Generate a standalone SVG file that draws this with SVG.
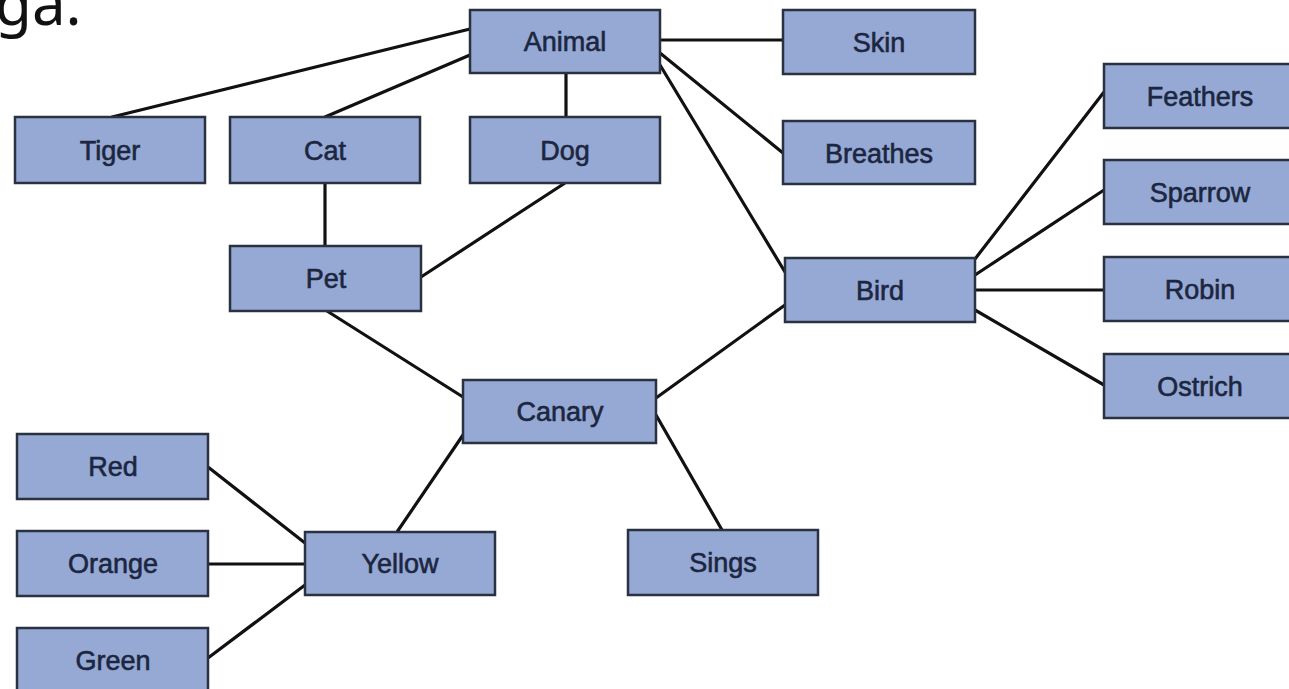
<svg xmlns="http://www.w3.org/2000/svg" width="1289" height="689" viewBox="0 0 1289 689">
<style>
.n rect{fill:#95a9d4;stroke:#2a3140;stroke-width:2.5}
.n text{font-family:"Liberation Sans",Arial,sans-serif;font-size:27px;fill:#1c2640;stroke:#1c2640;stroke-width:0.6;text-anchor:middle}
.c line{stroke:#111;stroke-width:3.2;stroke-linecap:round}
.h{font-family:"Noto Sans","DejaVu Sans",sans-serif;font-size:60px;fill:#111}
</style>
<rect width="1289" height="689" fill="#fff"/>
<text class="h" x="-5" y="25">ga.</text>
<g class="c">
<line x1="470" y1="29" x2="112" y2="117"/>
<line x1="470" y1="55" x2="325" y2="117"/>
<line x1="566" y1="73" x2="566" y2="117"/>
<line x1="660" y1="40" x2="783" y2="40"/>
<line x1="660" y1="53" x2="783" y2="153"/>
<line x1="660" y1="65" x2="785" y2="272"/>
<line x1="325" y1="183" x2="325" y2="246"/>
<line x1="565" y1="183" x2="421" y2="277"/>
<line x1="327" y1="311" x2="463" y2="397"/>
<line x1="656" y1="398" x2="785" y2="305"/>
<line x1="463" y1="435" x2="397" y2="532"/>
<line x1="656" y1="415" x2="722" y2="530"/>
<line x1="208" y1="467" x2="305" y2="543"/>
<line x1="208" y1="564" x2="305" y2="564"/>
<line x1="208" y1="658" x2="305" y2="585"/>
<line x1="975" y1="259" x2="1104" y2="92"/>
<line x1="975" y1="275" x2="1104" y2="190"/>
<line x1="975" y1="290" x2="1104" y2="290"/>
<line x1="975" y1="310" x2="1104" y2="385"/>
</g>
<g id="animal" class="n"><rect x="470" y="10" width="190" height="63"/><text x="565" y="51">Animal</text></g>
<g id="skin" class="n"><rect x="783" y="10" width="192" height="64"/><text x="879" y="52">Skin</text></g>
<g id="tiger" class="n"><rect x="15" y="117" width="190" height="66"/><text x="110" y="160">Tiger</text></g>
<g id="cat" class="n"><rect x="230" y="117" width="190" height="66"/><text x="325" y="160">Cat</text></g>
<g id="dog" class="n"><rect x="470" y="117" width="190" height="66"/><text x="565" y="160">Dog</text></g>
<g id="breathes" class="n"><rect x="783" y="121" width="192" height="63"/><text x="879" y="163">Breathes</text></g>
<g id="feathers" class="n"><rect x="1104" y="64" width="190" height="64"/><text x="1200" y="106">Feathers</text></g>
<g id="sparrow" class="n"><rect x="1104" y="160" width="190" height="64"/><text x="1200" y="202">Sparrow</text></g>
<g id="pet" class="n"><rect x="230" y="246" width="191" height="65"/><text x="326" y="288">Pet</text></g>
<g id="bird" class="n"><rect x="785" y="258" width="190" height="64"/><text x="880" y="300">Bird</text></g>
<g id="robin" class="n"><rect x="1104" y="257" width="190" height="64"/><text x="1200" y="299">Robin</text></g>
<g id="ostrich" class="n"><rect x="1104" y="354" width="190" height="64"/><text x="1200" y="396">Ostrich</text></g>
<g id="canary" class="n"><rect x="463" y="380" width="193" height="63"/><text x="560" y="421">Canary</text></g>
<g id="red" class="n"><rect x="17" y="434" width="191" height="65"/><text x="113" y="476">Red</text></g>
<g id="orange" class="n"><rect x="17" y="531" width="191" height="65"/><text x="113" y="573">Orange</text></g>
<g id="yellow" class="n"><rect x="305" y="532" width="190" height="63"/><text x="400" y="573">Yellow</text></g>
<g id="sings" class="n"><rect x="628" y="530" width="190" height="65"/><text x="723" y="572">Sings</text></g>
<g id="green" class="n"><rect x="17" y="628" width="191" height="70"/><text x="113" y="670">Green</text></g>
</svg>
